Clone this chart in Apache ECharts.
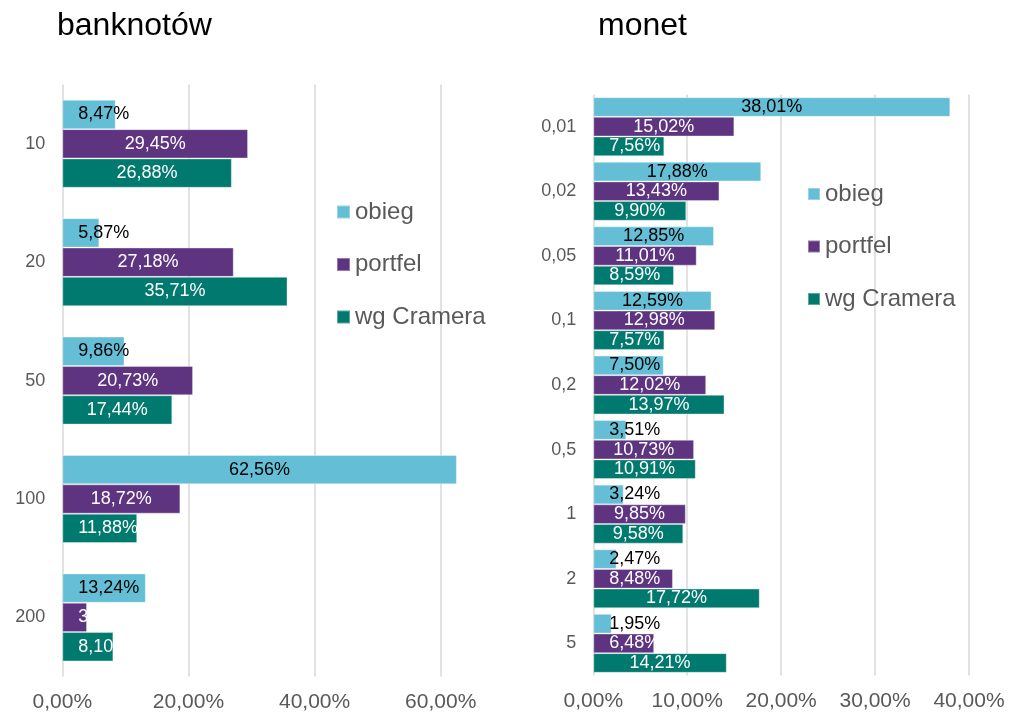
<!DOCTYPE html>
<html><head><meta charset="utf-8">
<script src="https://cdn.jsdelivr.net/npm/echarts@6/dist/echarts.min.js"></script>
<style>html,body{margin:0;padding:0;background:#fff}#c{width:1021px;height:712px}</style>
</head><body><div id="c"></div>
<script>
// ---- data ----
const seriesNames = ['obieg', 'portfel', 'wg Cramera'];
const banknoteCategories = ['10', '20', '50', '100', '200'];
const banknoteObieg = [8.47, 5.87, 9.86, 62.56, 13.24];
const banknotePortfel = [29.45, 27.18, 20.73, 18.72, 3.92];
const banknoteCramer = [26.88, 35.71, 17.44, 11.88, 8.10];
const coinCategories = ['0,01', '0,02', '0,05', '0,1', '0,2', '0,5', '1', '2', '5'];
const coinObieg = [38.01, 17.88, 12.85, 12.59, 7.50, 3.51, 3.24, 2.47, 1.95];
const coinPortfel = [15.02, 13.43, 11.01, 12.98, 12.02, 10.73, 9.85, 8.48, 6.48];
const coinCramer = [7.56, 9.90, 8.59, 7.57, 13.97, 10.91, 9.58, 17.72, 14.21];
const banknoteTicks = [0, 20, 40, 60];
const banknoteAxisMax = 70;
const coinTicks = [0, 10, 20, 30, 40];
const titles = ['banknotów', 'monet'];

// ---- style ----
const FONT = '"Liberation Sans", Arial, sans-serif';
const colors = ['#64BED6', '#5E3380', '#00796E'];
const labelColors = ['#000000', '#FFFFFF', '#FFFFFF'];
const LABEL_SIZE = 18;
const fmt = v => v.toFixed(2).replace('.', ',') + '%';

const chart = echarts.init(document.getElementById('c'), null, {renderer: 'canvas'});

function makeSeries(values, idx, axisIndex, catGap) {
  return {
    name: seriesNames[idx],
    type: 'bar',
    xAxisIndex: axisIndex,
    yAxisIndex: axisIndex,
    data: values.slice(),
    barGap: '0%',
    barCategoryGap: catGap,
    itemStyle: {color: colors[idx], borderColor: 'rgba(255,255,255,0.35)', borderWidth: 1},
    label: {
      show: true, position: 'inside', formatter: p => fmt(p.value),
      color: labelColors[idx], fontSize: LABEL_SIZE, fontFamily: FONT
    },
    emphasis: {disabled: true},
    z: 3
  };
}

const valueAxisCommon = {
  type: 'value',
  axisLine: {show: false},
  axisTick: {show: false},
  splitLine: {show: true, lineStyle: {color: '#D9D9D9', width: 1.5}},
  axisLabel: {formatter: v => fmt(v), color: '#595959', fontSize: 21, fontFamily: FONT, margin: 15}
};
const catAxisCommon = {
  type: 'category',
  inverse: true,
  axisLine: {show: false},
  axisTick: {show: false},
  axisLabel: {color: '#595959', fontSize: 18, fontFamily: FONT, margin: 17}
};
const legendCommon = {
  orient: 'vertical',
  data: seriesNames,
  icon: 'rect',
  itemWidth: 13, itemHeight: 13,
  itemGap: 28.5,
  padding: 0,
  selectedMode: false,
  textStyle: {color: '#595959', fontSize: 24, fontFamily: FONT, lineHeight: 24}
};

const option = {
  animation: false,
  backgroundColor: '#ffffff',
  title: [
    {text: titles[0], left: 52, top: 5, padding: 5, textStyle: {color: '#000', fontSize: 32, fontWeight: 'normal', fontFamily: FONT}},
    {text: titles[1], left: 593, top: 5, padding: 5, textStyle: {color: '#000', fontSize: 32, fontWeight: 'normal', fontFamily: FONT}}
  ],
  legend: [
    Object.assign({left: 336, top: 200}, legendCommon),
    Object.assign({left: 807, top: 182}, legendCommon, {itemWidth: 12, itemHeight: 12})
  ],
  grid: [
    {left: 62.3, right: 517.2, top: 84.6, bottom: 35.4, containLabel: false, outerBoundsMode: 'none'},
    {left: 593.3, right: 52, top: 94.4, bottom: 36.4, containLabel: false, outerBoundsMode: 'none'}
  ],
  xAxis: [
    Object.assign({}, valueAxisCommon, {gridIndex: 0, min: banknoteTicks[0], max: banknoteAxisMax,
      interval: banknoteTicks[1] - banknoteTicks[0],
      splitLine: {show: true, showMaxLine: false, lineStyle: {color: '#D9D9D9', width: 1.5}},
      axisLabel: Object.assign({}, valueAxisCommon.axisLabel, {showMaxLabel: false})}),
    Object.assign({}, valueAxisCommon, {gridIndex: 1, min: coinTicks[0], max: coinTicks[coinTicks.length - 1],
      interval: coinTicks[1] - coinTicks[0]})
  ],
  yAxis: [
    Object.assign({}, catAxisCommon, {gridIndex: 0, data: banknoteCategories}),
    Object.assign({}, catAxisCommon, {gridIndex: 1, data: coinCategories})
  ],
  series: [
    makeSeries(banknoteObieg, 0, 0, '25.7%'),
    makeSeries(banknotePortfel, 1, 0, '25.7%'),
    makeSeries(banknoteCramer, 2, 0, '25.7%'),
    makeSeries(coinObieg, 0, 1, '8.7%'),
    makeSeries(coinPortfel, 1, 1, '8.7%'),
    makeSeries(coinCramer, 2, 1, '8.7%')
  ]
};
chart.setOption(option);

// Place labels: centred in the bar, but never starting closer than ~16px to the axis
const measureCtx = document.createElement('canvas').getContext('2d');
measureCtx.font = LABEL_SIZE + 'px ' + FONT;
const MIN_OFFSET = 16;
const updated = option.series.map(s => {
  const ax = s.xAxisIndex;
  const p0 = chart.convertToPixel({xAxisIndex: ax}, 0);
  return {
    data: s.data.map(v => {
      const barW = chart.convertToPixel({xAxisIndex: ax}, v) - p0;
      const tw = measureCtx.measureText(fmt(v)).width;
      const centred = barW / 2 - tw / 2 >= MIN_OFFSET;
      return {value: v, label: centred ? {position: 'inside'} : {position: 'insideLeft', distance: MIN_OFFSET}};
    })
  };
});
chart.setOption({series: updated});
</script>
</body></html>
